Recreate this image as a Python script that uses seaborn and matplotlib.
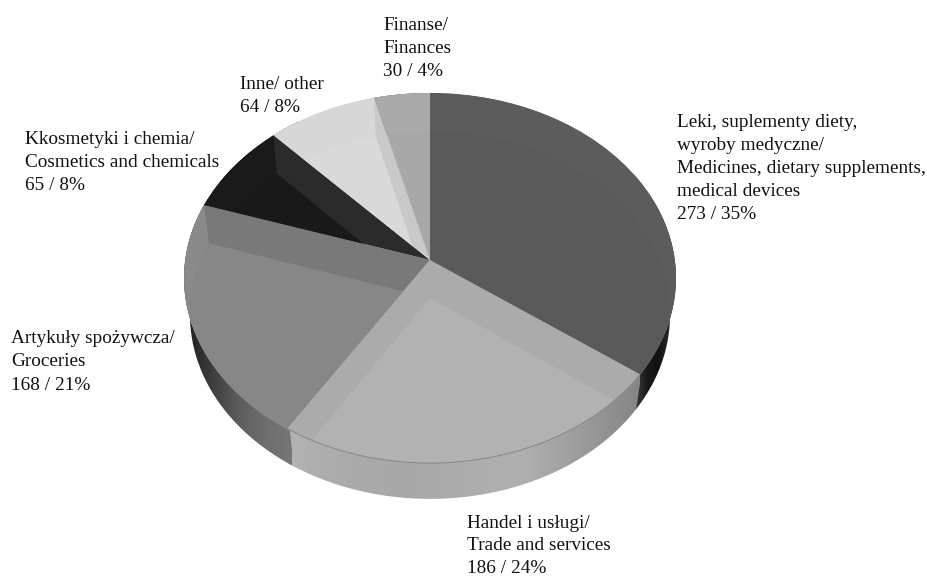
import numpy as np
import matplotlib
matplotlib.use("Agg")
import matplotlib.pyplot as plt
import seaborn as sns
from matplotlib.colors import LinearSegmentedColormap
from matplotlib.patches import PathPatch
from matplotlib.path import Path
from matplotlib.transforms import Transform

# Survey data
categories = [
    "Leki, suplementy diety,\nwyroby medyczne/\nMedicines, dietary supplements,\nmedical devices",
    "Handel i usługi/\nTrade and services",
    "Artykuły spożywcza/\nGroceries",
    "Kkosmetyki i chemia/\nCosmetics and chemicals",
    "Inne/ other",
    "Finanse/\nFinances",
]
counts = [273, 186, 168, 65, 64, 30]
shares = [35, 24, 21, 8, 8, 4]

# Shades of the top face: cut-side band, inner area and back wall seen through each slice
band_shades = ["#5c5c5c", "#ababab", "#797979", "#2b2b2b", "#c9c9c9", "#aaaaaa"]
inner_shades = ["#5a5a5a", "#b2b2b2", "#878787", "#191919", "#d9d9d9", "#a8a8a8"]
back_shades = ["#5c5c5c", "#b2b2b2", "#8a8a8a", "#1a1a1a", "#d7d7d7", "#aaaaaa"]

# Grey ramps of the outer wall, left to right, with their horizontal span
wall_ramps = [
    (["#3a3a3a", "#1a1a1a", "#111111", "#2a2a2a", "#555555"], (636, 680)),
    (["#b2b2b2", "#ababab", "#a8a8a8", "#adadad", "#b0b0b0", "#9c9c9c", "#858585"], (288, 640)),
    (["#1c1c1c", "#3c3c3c", "#5c5c5c", "#6e6e6e", "#767676"], (184, 292)),
    (["#222222", "#222222"], (170, 200)),
    (["#222222", "#222222"], (170, 300)),
    (["#333333", "#333333"], (300, 440)),
]

label_x = [677, 467, 11, 25, 240, 383]
label_y = [168.5, 546, 362, 162.5, 96, 48.5]
label_spacing = [1.48, 1.42, 1.48, 1.48, 1.48, 1.48]

sns.set_theme(style="white")
plt.rcParams["font.family"] = ["Liberation Serif", "DejaVu Serif"]


class PieTilt(Transform):
    """Perspective view of the unit disc placed in pixel-like axes coordinates."""
    input_dims = 2
    output_dims = 2
    is_separable = False
    has_inverse = False

    def __init__(self, cx, cy, a, b, k):
        super().__init__()
        self.params = (cx, cy, a, b, k)

    def transform_non_affine(self, values):
        cx, cy, a, b, k = self.params
        values = np.asarray(values)
        w = 1 + k * values[:, 1]
        return np.column_stack([cx + a * values[:, 0] / w, cy - b * values[:, 1] / w])


top_view = PieTilt(430, 260, 244.8, 183.3, 0.0974)
base_view = PieTilt(430, 298, 239.0, 182.4, 0.092)

fig = plt.figure(figsize=(9.27, 5.76), dpi=100)
ax = fig.add_axes([0, 0, 1, 1])

# Outer wall, drawn first so the top face covers its back part
fractions = np.cumsum([0] + shares) / sum(shares)
outlines = []
for i, (stops, span) in enumerate(wall_ramps):
    t = np.linspace(fractions[i], fractions[i + 1], 160) * 2 * np.pi
    circle = np.column_stack([np.sin(t), np.cos(t)])
    outline = Path(np.vstack([top_view.transform_non_affine(circle),
                              base_view.transform_non_affine(circle)[::-1]]))
    outlines.append(outline)
    # A hair of overlap keeps neighbouring walls from leaving a gap
    t_pad = np.linspace(fractions[i] - 0.002, fractions[i + 1] + 0.002, 160) * 2 * np.pi
    circle_pad = np.column_stack([np.sin(t_pad), np.cos(t_pad)])
    padded = Path(np.vstack([top_view.transform_non_affine(circle_pad),
                             base_view.transform_non_affine(circle_pad)[::-1]]))
    cmap = LinearSegmentedColormap.from_list(f"wall{i}", stops)
    im = ax.imshow(np.linspace(0, 1, 256)[None, :], cmap=cmap, aspect="auto",
                   extent=(span[0], span[1], 520, 80), zorder=1, interpolation="bilinear")
    im.set_clip_path(PathPatch(padded, transform=ax.transData))

# Top face: the slices, then the base and the back wall seen through them
tops, _ = ax.pie(shares, colors=sns.color_palette(band_shades), startangle=90,
                 counterclock=False, wedgeprops={"linewidth": 0})
bases, _ = ax.pie(shares, colors=sns.color_palette(inner_shades), startangle=90,
                  counterclock=False, wedgeprops={"linewidth": 0})
for top, base, outline, shade in zip(tops, bases, outlines, back_shades):
    top.set_transform(top_view + ax.transData)
    top.set_zorder(2)
    base.set_transform(base_view + ax.transData)
    base.set_zorder(3)
    base.set_clip_on(True)
    base.set_clip_path(top)
    back = PathPatch(outline, facecolor=shade, linewidth=0, zorder=3)
    ax.add_patch(back)
    back.set_clip_path(top)

# Thin rim along the front of the top face
t = np.linspace(fractions[1], fractions[2], 200) * 2 * np.pi
rim = top_view.transform_non_affine(np.column_stack([np.sin(t), np.cos(t)]))
ax.plot(rim[:, 0], rim[:, 1], color="#858585", lw=0.7, zorder=4)

ax.set_xlim(0, 927)
ax.set_ylim(576, 0)
ax.set_aspect("auto")
ax.axis("off")

# Category labels with count and share
for name, n, pct, x, y, gap in zip(categories, counts, shares, label_x, label_y, label_spacing):
    ax.text(x, y, f"{name}\n{n} / {pct}%", ha="left", va="center",
            fontsize=13.9, color="#111111", linespacing=gap, zorder=5)

fig.savefig("out.png", dpi=100, facecolor="white")
